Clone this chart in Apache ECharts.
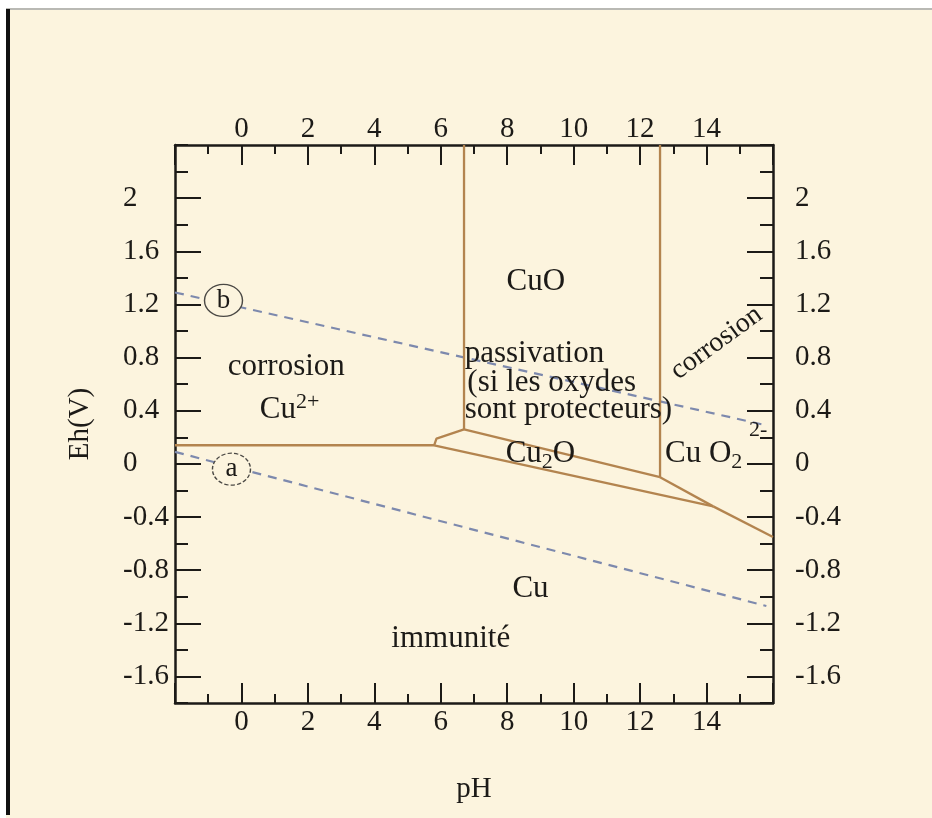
<!DOCTYPE html>
<html>
<head>
<meta charset="utf-8">
<script src="https://cdn.jsdelivr.net/npm/echarts@6/dist/echarts.min.js"></script>
<style>
  html, body { margin: 0; padding: 0; background: #ffffff; }
  #chart { width: 932px; height: 818px; }
</style>
</head>
<body>
<div id="chart"></div>
<script>
// Axis ranges and tick labels
const phRange = [-2, 16];
const ehRange = [-1.8, 2.4];
const phTicks = [0, 2, 4, 6, 8, 10, 12, 14];
const ehTicks = [-1.6, -1.2, -0.8, -0.4, 0, 0.4, 0.8, 1.2, 1.6, 2];

// Domain boundaries of the Cu / H2O system, points as [pH, Eh]
const cu2Cu     = [[-2, 0.14], [5.8, 0.14]];
const cu2Cu2o   = [[5.8, 0.14], [5.87, 0.19], [6.7, 0.26]];
const cu2Cuo    = [[6.7, 0.26], [6.7, 2.4]];
const cuoCu2o   = [[6.7, 0.26], [12.6, -0.1]];
const cuoCuo2   = [[12.6, -0.1], [12.6, 2.4]];
const cu2oCu    = [[5.8, 0.14], [14.2, -0.32]];
const cuo2Cu2o  = [[12.6, -0.1], [14.2, -0.32]];
const cuo2Cu    = [[14.2, -0.32], [16, -0.55]];

// Water stability limits (a: H2 evolution, b: O2 evolution)
const waterA = [[-2, 0.09], [15.8, -1.07]];
const waterB = [[-2, 1.29], [15.8, 0.29]];

// Circled line markers
const markerNames = ['a', 'b'];
const markerAt = [[-0.3, -0.04], [-0.54, 1.23]];

// Domain names and their anchors [pH, Eh]
const regionTexts = ['CuO', 'corrosion', 'Cu{sup|2+}', 'passivation', '(si les oxydes',
  'sont protecteurs)', 'Cu{sub|2}O', 'Cu O{sub|2}', '{sup|2-}', 'Cu', 'immunité', 'corrosion'];
const regionAt = [[8.86, 1.37], [1.35, 0.73], [1.45, 0.41], [6.72, 0.83], [6.8, 0.61],
  [6.72, 0.41], [9.0, 0.075], [12.75, 0.075], [15.55, 0.2], [8.7, -0.94], [6.3, -1.32], [14.3, 0.91]];
const regionAlign = ['center', 'center', 'center', 'left', 'left',
  'left', 'center', 'left', 'center', 'center', 'center', 'center'];
const regionRotate = [0, 0, 0, 0, 0, 0, 0, 0, 0, 0, 0, 36];

const SERIF = '"Liberation Serif", "Times New Roman", serif';
const INK = '#1c1a17';
const PAPER = '#fcf4de';
const BOUNDARY = '#b3844f';
const WATER = '#7d89ad';

const chart = echarts.init(document.getElementById('chart'), null, { renderer: 'canvas' });

const axisLine = { show: true, onZero: false, lineStyle: { color: INK, width: 2.5 } };
const tickStyle = { color: INK, width: 2 };
const tickFont = { fontFamily: SERIF, fontSize: 29, color: INK };

function phAxis(position, margin, withName) {
  return {
    type: 'value', position: position, min: phRange[0], max: phRange[1], interval: 2,
    axisLine: axisLine,
    axisTick: { show: true, inside: true, length: 20, lineStyle: tickStyle },
    minorTick: { show: true, splitNumber: 2, length: 9, lineStyle: tickStyle },
    splitLine: { show: false }, minorSplitLine: { show: false },
    axisLabel: Object.assign({ customValues: phTicks, margin: margin }, tickFont),
    name: withName ? 'pH' : '', nameLocation: 'middle', nameGap: 72,
    nameTextStyle: { fontFamily: SERIF, fontSize: 29, color: INK }
  };
}

function ehMinorAxis(position) {
  return {
    type: 'value', position: position, min: ehRange[0], max: ehRange[1], interval: 0.2,
    axisLine: axisLine,
    axisTick: { show: true, inside: true, length: 13, lineStyle: tickStyle },
    axisLabel: { show: false },
    splitLine: { show: false }
  };
}

function ehMajorAxis(position, margin, withName) {
  return {
    type: 'value', position: position, min: ehRange[0], max: ehRange[1],
    axisLine: { show: false, onZero: false },
    axisTick: { show: true, inside: true, length: 26, customValues: ehTicks, lineStyle: tickStyle },
    axisLabel: Object.assign({ customValues: ehTicks, margin: margin, align: 'left' }, tickFont),
    splitLine: { show: false },
    name: withName ? 'Eh(V)' : '', nameLocation: 'middle', nameGap: 80, nameRotate: 90,
    nameTextStyle: { fontFamily: SERIF, fontSize: 29, color: INK }
  };
}

function boundary(points) {
  return {
    type: 'line', data: points, symbol: 'none', silent: true, z: 3,
    lineStyle: { color: BOUNDARY, width: 2.3 }
  };
}

function water(points) {
  return {
    type: 'line', data: points, symbol: 'none', silent: true, z: 2,
    lineStyle: { color: WATER, width: 2.2, type: [9, 7] }
  };
}

const richStyles = {
  sup: { fontFamily: SERIF, fontSize: 22, color: INK, verticalAlign: 'top', padding: [0, 0, 14, 0] },
  sub: { fontFamily: SERIF, fontSize: 22, color: INK, verticalAlign: 'bottom', padding: [16, 0, 0, 0] }
};

const option = {
  backgroundColor: PAPER,
  animation: false,
  grid: { left: 175, right: 159, top: 145, bottom: 115, outerBoundsMode: 'none' },
  xAxis: [phAxis('bottom', 5, true), phAxis('top', 1, false)],
  yAxis: [ehMinorAxis('left'), ehMajorAxis('left', 52, true), ehMinorAxis('right'), ehMajorAxis('right', 22, false)],
  graphic: [
    { type: 'rect', shape: { x: 0, y: 0, width: 932, height: 8 }, style: { fill: '#ffffff' }, silent: true },
    { type: 'rect', shape: { x: 0, y: 8, width: 932, height: 2 }, style: { fill: '#b9b9b4' }, silent: true },
    { type: 'rect', shape: { x: 0, y: 0, width: 6, height: 818 }, style: { fill: '#ffffff' }, silent: true },
    { type: 'rect', shape: { x: 6, y: 9, width: 4, height: 806 }, style: { fill: '#111111' }, silent: true }
  ],
  series: [
    boundary(cu2Cu), boundary(cu2Cu2o), boundary(cu2Cuo), boundary(cuoCu2o),
    boundary(cuoCuo2), boundary(cu2oCu), boundary(cuo2Cu2o), boundary(cuo2Cu),
    water(waterA), water(waterB),
    {
      type: 'scatter', silent: true, z: 4,
      data: markerNames.map((n, i) => ({
        name: n, value: markerAt[i],
        itemStyle: { borderType: n === 'a' ? [4, 2] : 'solid' }
      })),
      symbol: 'circle', symbolSize: [38, 32],
      itemStyle: { color: PAPER, borderColor: '#4a4844', borderWidth: 1.3, opacity: 1 },
      label: { show: true, position: 'inside', formatter: '{b}', fontFamily: SERIF, fontSize: 27, color: INK }
    },
    {
      type: 'scatter', silent: true, z: 5, symbolSize: 0,
      itemStyle: { opacity: 1 },
      data: regionTexts.map((t, i) => ({
        name: t, value: regionAt[i],
        label: { align: regionAlign[i], rotate: regionRotate[i], fontSize: i === 11 ? 28 : 31 }
      })),
      label: {
        show: true, position: 'inside', formatter: '{b}',
        fontFamily: SERIF, fontSize: 31, color: INK, verticalAlign: 'middle',
        rich: richStyles
      }
    }
  ]
};

chart.setOption(option);
</script>
</body>
</html>
